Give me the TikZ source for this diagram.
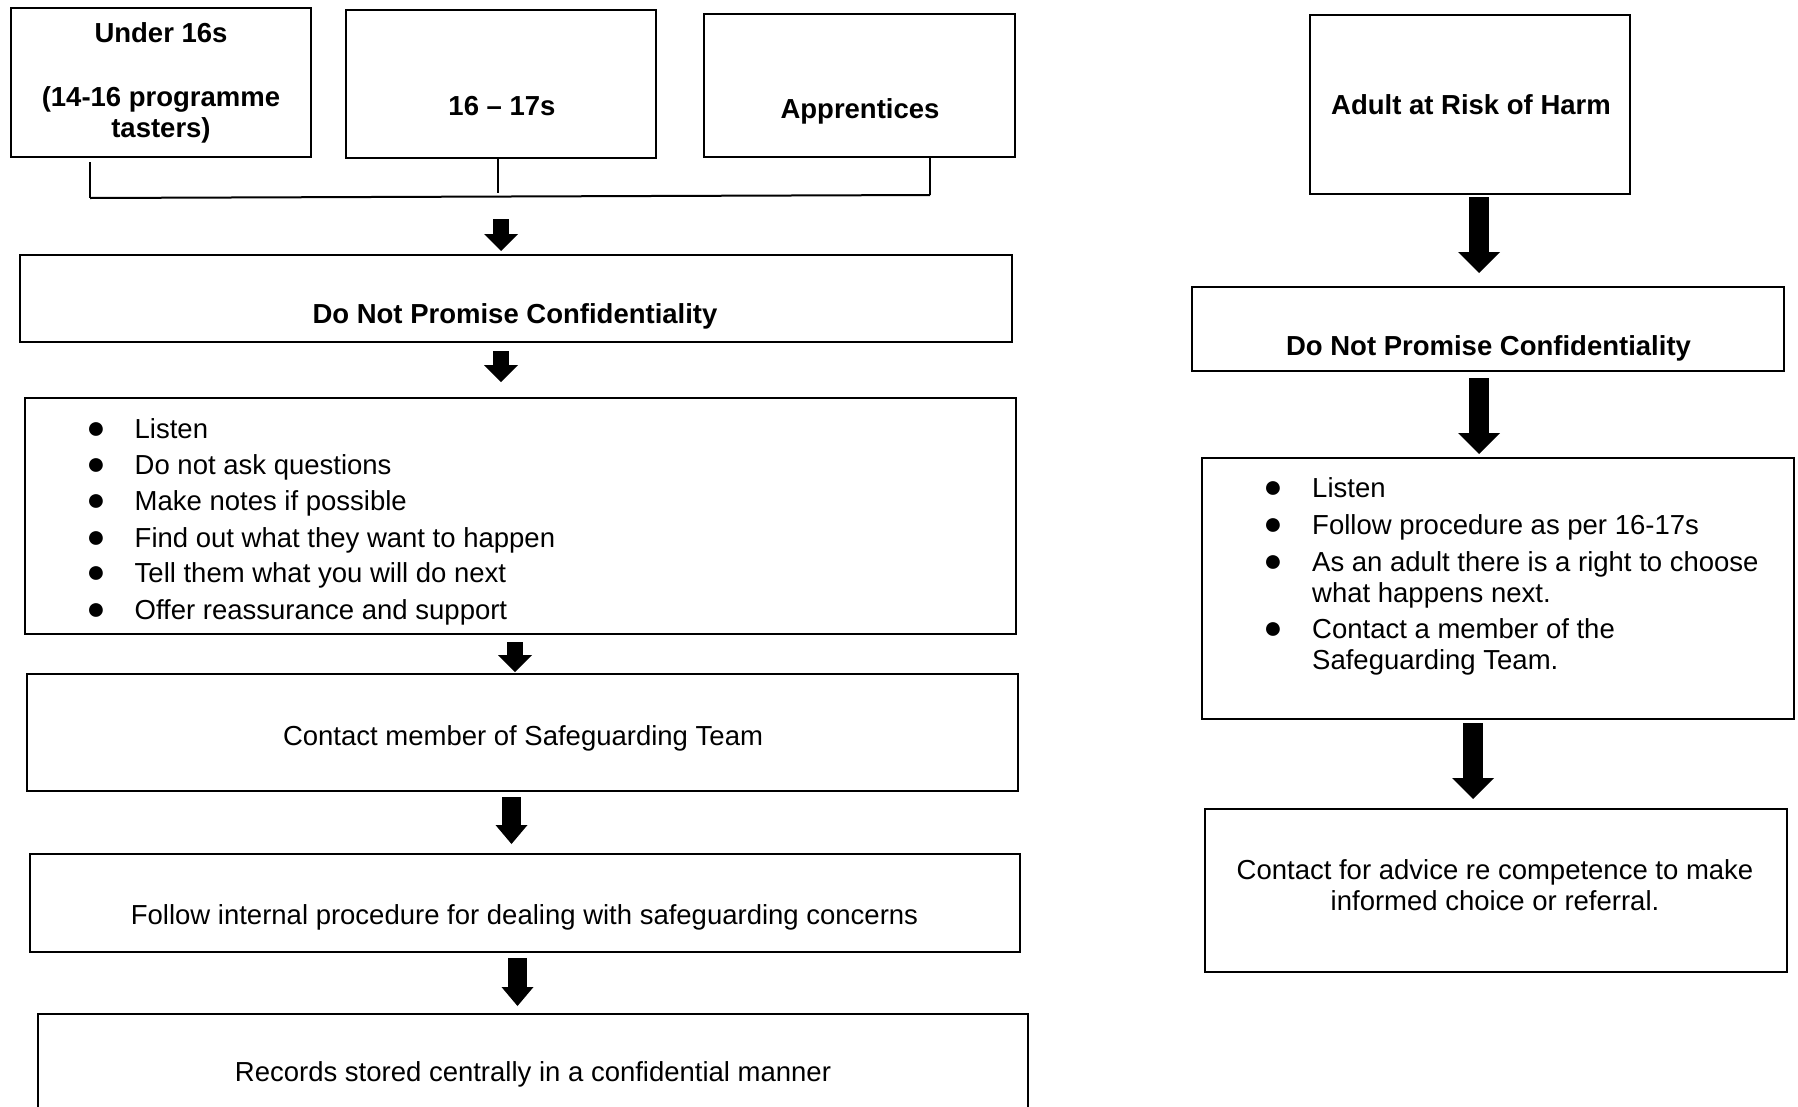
\documentclass[tikz,border=0pt]{standalone}
\usepackage{fontspec}
\setmainfont{Liberation Sans}
\usetikzlibrary{arrows.meta,calc}
\begin{document}
\begin{tikzpicture}[x=1pt,y=-1pt,
  box/.style={draw=black, line width=1.3pt, inner sep=0pt, outer sep=0pt, rectangle},
  conn/.style={draw=black, line width=1.3pt},
  txt/.style={inner sep=0pt, anchor=base, font=\fontsize{27.5}{31.5}\selectfont},
  btxt/.style={inner sep=0pt, anchor=base, font=\fontsize{27.5}{31.5}\selectfont\bfseries},
  ltxt/.style={inner sep=0pt, anchor=base west, font=\fontsize{27.5}{31.5}\selectfont},
  bul/.style={inner sep=0pt, anchor=base, font=\fontsize{32}{34}\selectfont},
  arrS/.style={line width=16pt, -{Triangle[length=17pt 0 0, width=34pt 0 0, line width=0pt 0]}},
  arrM/.style={line width=19pt, -{Triangle[length=19pt 0 0, width=32pt 0 0, line width=0pt 0]}},
  arrL/.style={line width=20pt, -{Triangle[length=21pt 0 0, width=42pt 0 0, line width=0pt 0]}}
]
\useasboundingbox (0,0) rectangle (1798,1106);
\clip (0,0) rectangle (1798,1106);
\fill[white] (0,0) rectangle (1798,1106);

% ---------- left column boxes ----------
\node[box, minimum width=300, minimum height=149] (u16) at (161,82.5) {};
\node[box, minimum width=310, minimum height=148] (m1617) at (501,84) {};
\node[box, minimum width=311, minimum height=143] (app) at (859.5,85.5) {};
\node[box, minimum width=992, minimum height=87] (dnpcL) at (516,298.5) {};
\node[box, minimum width=991, minimum height=236] (bulL) at (520.5,516) {};
\node[box, minimum width=991, minimum height=117] (contactL) at (522.5,732.5) {};
\node[box, minimum width=990, minimum height=98] (followL) at (525,903) {};
\node[box, minimum width=990, minimum height=116] (records) at (533,1072) {};

% ---------- right column boxes ----------
\node[box, minimum width=320, minimum height=179] (adult) at (1470,104.5) {};
\node[box, minimum width=592, minimum height=84] (dnpcR) at (1488,329) {};
\node[box, minimum width=592, minimum height=261] (bulR) at (1498,588.5) {};
\node[box, minimum width=582, minimum height=163] (adviceR) at (1496,890.5) {};

% ---------- left texts ----------
\node[btxt] (t1) at (161,42) {Under 16s};
\node[btxt] (t2) at (161,106.5) {(14-16 programme};
\node[btxt] (t3) at (161,137.5) {tasters)};
\node[btxt] (t4) at (502,115) {16 – 17s};
\node[btxt] (t5) at (860,118) {Apprentices};
\node[btxt] (t6) at (515,323) {Do Not Promise Confidentiality};

\node[bul] (b1) at (96,438) {●};
\node[bul] (b2) at (96,474) {●};
\node[bul] (b3) at (96,510) {●};
\node[bul] (b4) at (96,547) {●};
\node[bul] (b5) at (96,582) {●};
\node[bul] (b6) at (96,619) {●};
\node[ltxt] (l1) at (134.5,438) {Listen};
\node[ltxt] (l2) at (134.5,474) {Do not ask questions};
\node[ltxt] (l3) at (134.5,510) {Make notes if possible};
\node[ltxt] (l4) at (134.5,547) {Find out what they want to happen};
\node[ltxt] (l5) at (134.5,582) {Tell them what you will do next};
\node[ltxt] (l6) at (134.5,619) {Offer reassurance and support};

\node[txt] (t7) at (523,745) {Contact member of Safeguarding Team};
\node[txt] (t8) at (524.5,924) {Follow internal procedure for dealing with safeguarding concerns};
\node[txt] (t9) at (533,1081) {Records stored centrally in a confidential manner};

% ---------- right texts ----------
\node[btxt] (r1) at (1471,114) {Adult at Risk of Harm};
\node[btxt] (r2) at (1488.5,355) {Do Not Promise Confidentiality};

\node[bul] (rb1) at (1273,497) {●};
\node[bul] (rb2) at (1273,534) {●};
\node[bul] (rb3) at (1273,571) {●};
\node[bul] (rb4) at (1273,638) {●};
\node[ltxt] (rl1) at (1312,497) {Listen};
\node[ltxt] (rl2) at (1312,534) {Follow procedure as per 16-17s};
\node[ltxt] (rl3) at (1312,571) {As an adult there is a right to choose};
\node[ltxt] (rl3b) at (1312,602) {what happens next.};
\node[ltxt] (rl4) at (1312,638) {Contact a member of the};
\node[ltxt] (rl4b) at (1312,669) {Safeguarding Team.};

\node[txt] (r3) at (1495,879) {Contact for advice re competence to make};
\node[txt] (r4) at (1495,910) {informed choice or referral.};

% ---------- bracket joining the three top boxes ----------
\coordinate (bl) at (90,198);
\coordinate (br) at (930,195);
\coordinate (bmid) at (498,193);
\coordinate (bm) at (501,197);
\draw[conn] ($(u16.south)+(-71,5)$) -- (bl);
\draw[conn, line width=2pt] (bl) -- (br);
\draw[conn] ($(app.south)+(70.5,0)$) -- (br);
\draw[conn] ($(m1617.south)+(-3,0)$) -- (bmid);

% ---------- left arrows ----------
\draw[arrS] ($(bm)+(0,22)$) -- ($(dnpcL.north)+(-15,-4)$);
\draw[arrS] ($(dnpcL.south)+(-15,9)$) -- ($(bulL.north)+(-19.5,-16)$);
\draw[arrS] ($(bulL.south)+(-5.5,8)$) -- ($(contactL.north)+(-7.5,-2)$);
\draw[arrM] ($(contactL.south)+(-11,6)$) -- ($(followL.north)+(-13.5,-10)$);
\draw[arrM] ($(followL.south)+(-7.5,6)$) -- ($(records.north)+(-15.5,-8)$);

% ---------- right arrows ----------
\draw[arrL] ($(adult.south)+(9,3)$) -- ($(dnpcR.north)+(-9,-14)$);
\draw[arrL] ($(dnpcR.south)+(-9,7)$) -- ($(bulR.north)+(-19,-4)$);
\draw[arrL] ($(bulR.south)+(-25,4)$) -- ($(adviceR.north)+(-23,-10)$);
\end{tikzpicture}
\end{document}
